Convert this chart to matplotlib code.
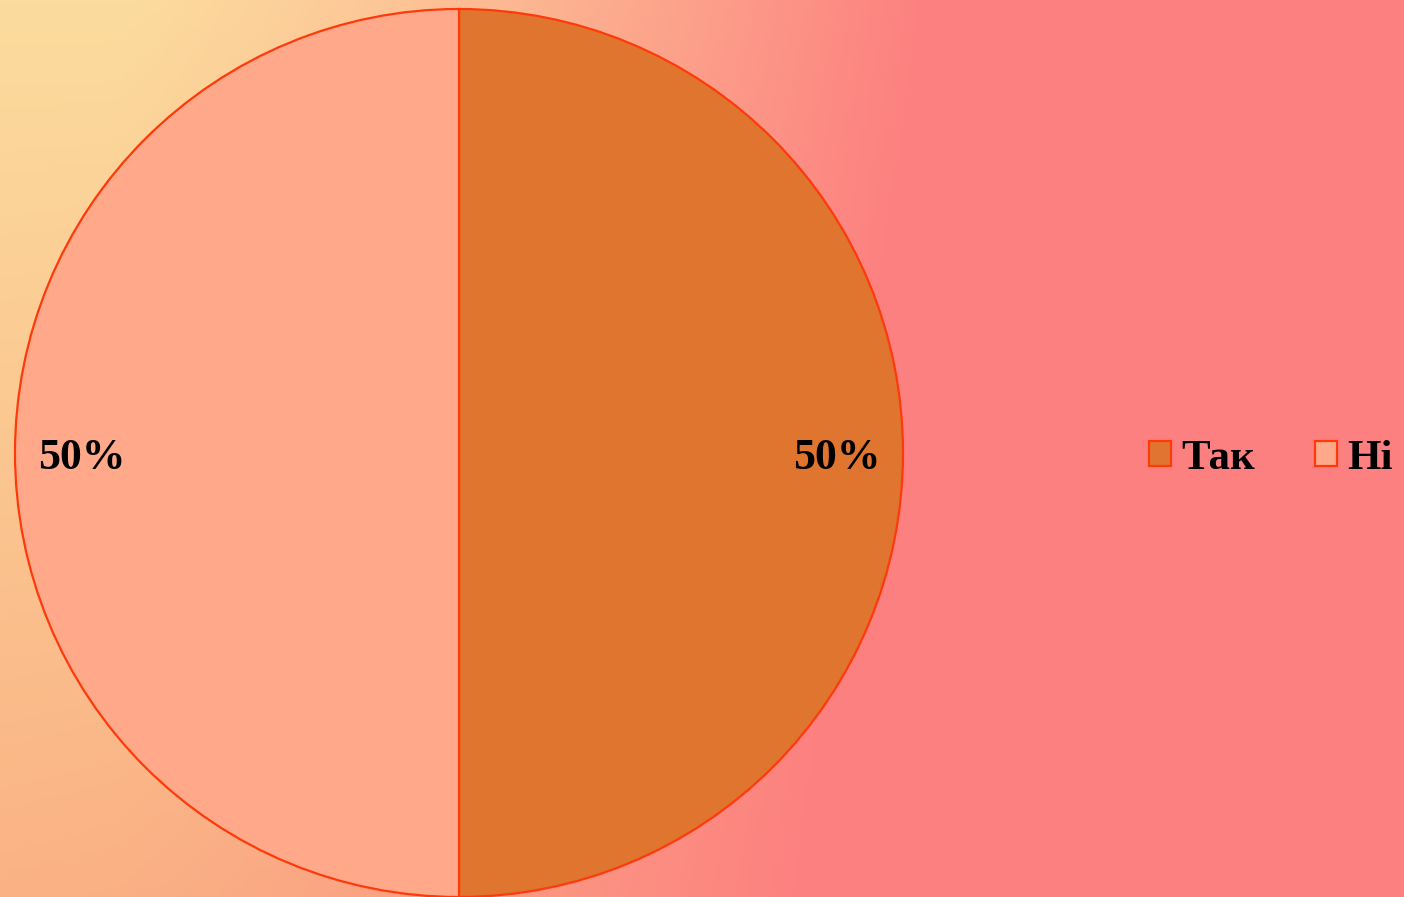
import numpy as np
import matplotlib.pyplot as plt

# --- Data ---
labels = ['Так', 'Ні']
values = [50, 50]
colors = ['#E0752F', '#FFA98A']
edge = '#FF3A0A'

W, H, DPI = 1404, 897, 100
fig = plt.figure(figsize=(W / DPI, H / DPI), dpi=DPI)

# --- Background gradient (warm yellow top-left -> salmon pink right) ---
bg = fig.add_axes([0, 0, 1, 1])
bg.set_axis_off()
nx, ny = 300, 200
gx = np.linspace(0, 1, nx)[None, :]
gy = np.linspace(0, 1, ny)[:, None]
left_top = np.array([252, 220, 158]) / 255
left_bot = np.array([250, 178, 132]) / 255
right = np.array([253, 128, 128]) / 255
left = left_top[None, None, :] * (1 - gy[..., None]) + left_bot[None, None, :] * gy[..., None]
t = np.clip((gx - 0.08) / 0.58, 0, 1) ** 1.3
t = np.clip(t + 0.2 * gy * np.clip(gx / 0.6, 0, 1), 0, 1)
img = left * (1 - t[..., None]) + right[None, None, :] * t[..., None]
bg.imshow(img, extent=[0, 1, 0, 1], aspect='auto', origin='upper')
bg.set_xlim(0, 1)
bg.set_ylim(0, 1)

# --- Pie ---
r = 444
cx, cy = 459, 453
ax = fig.add_axes([(cx - r) / W, (H - cy - r) / H, 2 * r / W, 2 * r / H])
ax.set_axis_off()
wedges, _, autotexts = ax.pie(
    values, colors=colors, startangle=90, counterclock=False,
    autopct='%d%%', pctdistance=0.85,
    wedgeprops=dict(edgecolor=edge, linewidth=1.6),
    textprops=dict(fontsize=31.5, fontweight='bold', family='Liberation Serif', color='black'),
)
# nudge the percent labels down a little, like the original
for txt in autotexts:
    txt.set_y(txt.get_position()[1] - 0.011)
ax.set_xlim(-1, 1)
ax.set_ylim(-1, 1)
ax.set_aspect('equal')

# --- Legend ---
leg = fig.legend(
    wedges, labels, loc='center left', bbox_to_anchor=(1149 / W, 1 - 459 / H),
    ncol=2, frameon=False, handlelength=0.5, handleheight=0.5,
    handletextpad=0.25, columnspacing=1.4, borderpad=0, borderaxespad=0,
    prop=dict(family='Liberation Serif', weight='bold', size=31),
)

fig.savefig('out.png', dpi=DPI)
